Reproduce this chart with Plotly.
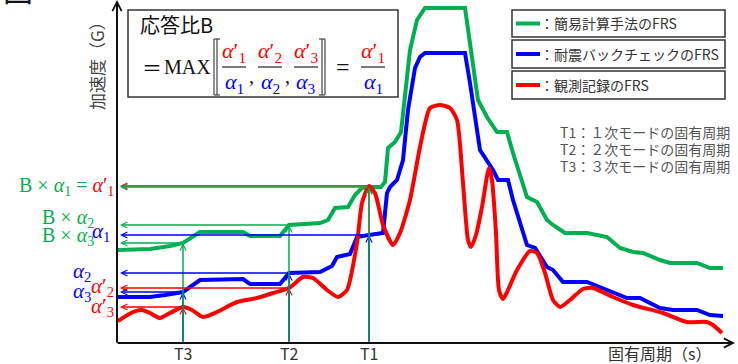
import plotly.graph_objects as go

W, H = 738, 364

GREEN = "#00B050"
BLUE = "#0000FF"
RED = "#FF0000"
CJK = "Noto Sans CJK JP"
SERIF = "Liberation Serif"

# Floor response spectra: period measured from the acceleration axis, acceleration from the period axis
period_simple = [1, 33, 53, 66, 83, 126, 133, 163, 172, 203, 211, 218, 231, 238, 245, 252, 264, 268, 271, 278,
                 284, 288, 293, 300, 308, 348, 361, 370, 380, 390, 396, 410, 420, 430, 436, 448, 470, 490, 503, 516,
                 526, 543, 553, 580, 593, 606]
accel_simple = [93, 94, 97, 100, 111, 111, 107, 107, 118, 120, 123, 135, 136, 148, 155, 156, 156, 161, 195, 201,
                211, 248, 293, 323, 335, 335, 243, 226, 211, 211, 190, 146, 141, 123, 118, 110, 110, 106, 95, 91,
                90, 83, 80, 80, 75, 75]

period_backcheck = [1, 33, 48, 66, 83, 126, 133, 163, 172, 203, 215, 220, 233, 240, 252, 266, 270, 273, 280, 286,
                    291, 298, 303, 308, 348, 353, 363, 376, 381, 391, 396, 410, 418, 430, 436, 446, 470, 496, 510, 523,
                    543, 556, 580, 593, 606]
accel_backcheck = [46, 46, 48, 51, 63, 64, 59, 59, 70, 71, 77, 86, 89, 106, 108, 110, 150, 156, 163, 183,
                   233, 275, 286, 290, 290, 260, 193, 173, 163, 163, 143, 98, 95, 76, 73, 61, 61, 50, 45, 45,
                   35, 33, 33, 28, 27]

period_record = [1, 16, 25, 33, 43, 53, 66, 75, 86, 100, 120, 140, 156, 172, 186, 196, 210, 221, 230, 240,
                 245, 252, 258, 266, 276, 283, 293, 303, 313, 323, 333, 340, 346, 351, 354, 359, 365, 372, 375, 379,
                 382, 386, 400, 413, 420, 428, 436, 443, 453, 466, 476, 496, 516, 546, 570, 590, 596, 605]
accel_record = [22, 31, 33, 30, 25, 30, 36, 33, 26, 31, 41, 45, 50, 55, 66, 65, 53, 46, 53, 100,
                140, 157, 150, 118, 98, 110, 143, 196, 235, 238, 235, 223, 160, 103, 96, 108, 136, 175, 163, 110,
                53, 44, 73, 92, 90, 70, 43, 36, 43, 54, 55, 46, 38, 30, 21, 21, 18, 10]

# Natural periods of modes 1..3 and the spectrum values read at them
t_periods = [252, 172, 66]
t_labels = ["T1", "T2", "T3"]
simple_at_t = [156, 118, 100]
backcheck_at_t = [108, 70, 51]
record_at_t = [157, 55, 36]

axis_end_period = 618
axis_end_accel = 343

legend_names = ["：簡易計算手法のFRS", "：耐震バックチェックのFRS", "：観測記録のFRS"]
legend_colors = [GREEN, BLUE, RED]
mode_notes = ["T1：１次モードの固有周期", "T2：２次モードの固有周期", "T3：３次モードの固有周期"]


def px(x):
    return x / W


def py(y):
    return 1 - y / H


def text(t, x, y, size, color="#333", family=CJK, xanchor="left", **kw):
    return dict(text=t, x=px(x), y=py(y), xref="paper", yref="paper", xanchor=xanchor, yanchor="middle",
                showarrow=False, font=dict(size=size, color=color, family=family), **kw)


def arrow(x, y, ax, ay, color, width=1.5, size=0.8, head=5):
    return dict(x=x, y=y, ax=ax, ay=ay, xref="x", yref="y", axref="x", ayref="y", text="",
                showarrow=True, arrowhead=head, arrowsize=size, arrowwidth=width, arrowcolor=color, standoff=0)


def seg(x0, y0, x1, y1, color="#222", width=1.2):
    return dict(type="line", xref="paper", yref="paper", x0=px(x0), y0=py(y0), x1=px(x1), y1=py(y1),
                line=dict(color=color, width=width))


def box(x0, y0, x1, y1):
    return dict(type="rect", xref="paper", yref="paper", x0=px(x0), y0=py(y0), x1=px(x1), y1=py(y1),
                line=dict(color="#333", width=1.5), fillcolor="rgba(0,0,0,0)")


fig = go.Figure()
fig.add_trace(go.Scatter(x=period_simple, y=accel_simple, mode="lines", name="簡易計算手法のFRS",
                         line=dict(color=GREEN, width=4)))
fig.add_trace(go.Scatter(x=period_backcheck, y=accel_backcheck, mode="lines", name="耐震バックチェックのFRS",
                         line=dict(color=BLUE, width=4)))
fig.add_trace(go.Scatter(x=period_record, y=accel_record, mode="lines", name="観測記録のFRS",
                         line=dict(color=RED, width=4, shape="spline", smoothing=0.6)))

annotations = []

# Arrows from each natural period up to the spectra, then across to the acceleration axis
for values, color in ((record_at_t, RED), (backcheck_at_t, BLUE), (simple_at_t, GREEN)):
    for t, v in zip(t_periods, values):
        annotations.append(arrow(t, v, t, 0, color))
for values, color in ((record_at_t, RED), (backcheck_at_t, BLUE), (simple_at_t, GREEN)):
    for t, v in zip(t_periods, values):
        annotations.append(arrow(3, v, t, v, color))

# Axes with arrowheads
annotations.append(arrow(0, axis_end_accel, 0, -1, "#111", width=2, size=0.9))
annotations.append(arrow(axis_end_period, 0, -1, 0, "#111", width=2, size=0.9))

# Period tick labels
for t, lab in zip(t_periods, t_labels):
    annotations.append(dict(text=lab, x=t, y=-10, xref="x", yref="y", showarrow=False,
                            font=dict(size=16, color="#333", family=CJK)))

annotations.append(text("固有周期（s）", 606, 353, 16))
annotations.append(text("加速度（G）", 96, 62, 17, color="#444", xanchor="center", textangle=-90))
annotations.append(text("図", 1, -12, 30, color="#111"))

# Ratio formula
annotations.append(text("応答比B", 138, 25, 20, color="#111"))
annotations.append(text("＝", 140, 67, 20, color="#111"))
annotations.append(text("MAX", 162, 67, 20, color="#111", family=SERIF))
frac_x = [234, 270, 306, 373]
for i, cx in zip([1, 2, 3, 1], frac_x):
    annotations.append(text(f"<i>α</i>′<sub>{i}</sub>", cx, 52, 22, color=RED, family=SERIF, xanchor="center"))
    annotations.append(text(f"<i>α</i><sub>{i}</sub>", cx, 83, 22, color=BLUE, family=SERIF, xanchor="center"))
annotations.append(text(",", 251, 76, 20, color="#111", family=SERIF, xanchor="center"))
annotations.append(text(",", 287, 76, 20, color="#111", family=SERIF, xanchor="center"))
annotations.append(text("=", 343, 67, 24, color="#111", family=SERIF, xanchor="center"))

# Labels for the arrow levels on the acceleration axis
annotations.append(text(f'<span style="color:{GREEN}">B × <i>α</i><sub>1</sub> = </span>'
                        f'<span style="color:{RED}"><i>α</i>′<sub>1</sub></span>',
                        116, 186, 20, color=GREEN, family=SERIF, xanchor="right"))
annotations.append(text("B × <i>α</i><sub>2</sub>", 96, 218, 20, color=GREEN, family=SERIF, xanchor="right"))
annotations.append(text("B × <i>α</i><sub>3</sub>", 96, 236, 20, color=GREEN, family=SERIF, xanchor="right"))
annotations.append(text("<i>α</i><sub>1</sub>", 112, 232, 21, color=BLUE, family=SERIF, xanchor="right"))
annotations.append(text("<i>α</i><sub>2</sub>", 93, 272, 21, color=BLUE, family=SERIF, xanchor="right"))
annotations.append(text("<i>α</i><sub>3</sub>", 93, 292, 21, color=BLUE, family=SERIF, xanchor="right"))
annotations.append(text("<i>α</i>′<sub>2</sub>", 116, 287, 21, color=RED, family=SERIF, xanchor="right"))
annotations.append(text("<i>α</i>′<sub>3</sub>", 116, 307, 21, color=RED, family=SERIF, xanchor="right"))

# Legend entries and mode notes
legend_rows = [(10, 37), (40, 68), (71, 99)]
shapes = [box(128, 10, 398, 97)]
for (y0, y1), name, color in zip(legend_rows, legend_names, legend_colors):
    shapes.append(box(512, y0, 725, y1))
    cy = (y0 + y1) / 2
    shapes.append(seg(516, cy, 540, cy, color=color, width=4))
    annotations.append(text(name, 538, cy, 14))
for note, y in zip(mode_notes, [132, 149, 166]):
    annotations.append(text(note, 558, y, 14, color="#555"))

# Fraction bars and double brackets of the formula
for cx in frac_x:
    shapes.append(seg(cx - 12, 67, cx + 12, 67))
for xa, xb, xt in ((214, 217, 220), (325, 322, 319)):
    shapes.append(seg(xa, 39, xa, 95, color="#444"))
    shapes.append(seg(xb, 39, xb, 95, color="#444"))
    shapes.append(seg(xa, 39, xt, 39, color="#444"))
    shapes.append(seg(xa, 95, xt, 95, color="#444"))

fig.update_layout(
    width=W, height=H,
    margin=dict(l=0, r=0, t=0, b=0),
    paper_bgcolor="white", plot_bgcolor="white",
    showlegend=False,
    xaxis=dict(range=[-117, 621], visible=False, fixedrange=True),
    yaxis=dict(range=[-21, 343], visible=False, fixedrange=True),
    annotations=annotations,
    shapes=shapes,
)

fig.write_html("out.html")
